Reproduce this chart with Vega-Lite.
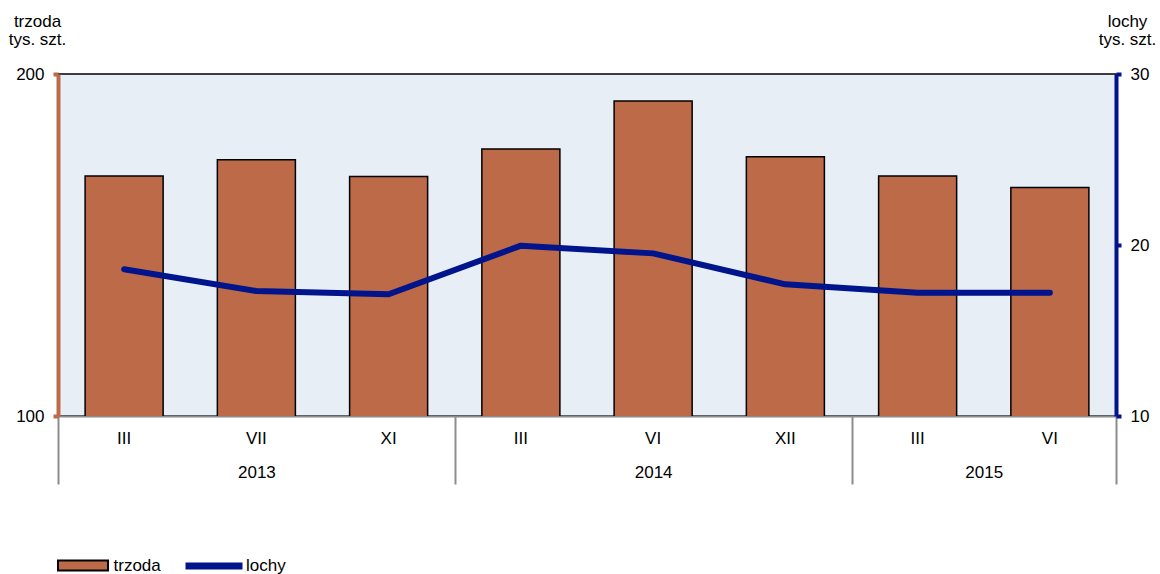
{
  "$schema": "https://vega.github.io/schema/vega-lite/v6.json",
  "description": "Trzoda chlewna i lochy, tys. szt.",
  "width": 1058,
  "height": 342,
  "autosize": {"type": "none"},
  "padding": {"left": 58, "top": 74, "right": 44, "bottom": 158},
  "config": {
    "font": "Liberation Sans",
    "view": {"fill": "#E7EEF6", "stroke": "#000000", "strokeWidth": 1.5},
    "axis": {
      "grid": false,
      "labelFont": "Liberation Sans",
      "labelFontSize": 17,
      "labelColor": "#000000",
      "titleFont": "Liberation Sans",
      "titleFontSize": 17,
      "titleFontWeight": "normal",
      "titleColor": "#000000",
      "titleLineHeight": 18
    },
    "legend": {"labelFont": "Liberation Sans", "labelFontSize": 17, "labelColor": "#000000"}
  },
  "data": {
    "values": [
      {"okres": "III 2013", "trzoda": 170.2, "lochy": 18.58},
      {"okres": "VII 2013", "trzoda": 174.9, "lochy": 17.31},
      {"okres": "XI 2013", "trzoda": 170.0, "lochy": 17.12},
      {"okres": "III 2014", "trzoda": 178.1, "lochy": 19.96},
      {"okres": "VI 2014", "trzoda": 192.1, "lochy": 19.51},
      {"okres": "XII 2014", "trzoda": 175.8, "lochy": 17.7},
      {"okres": "III 2015", "trzoda": 170.2, "lochy": 17.21},
      {"okres": "VI 2015", "trzoda": 166.8, "lochy": 17.21}
    ]
  },
  "layer": [
    {
      "layer": [
        {
          "mark": {"type": "bar", "stroke": "#000000", "strokeWidth": 1.5, "clip": true},
          "encoding": {
            "x": {
              "field": "okres",
              "type": "nominal",
              "sort": null,
              "scale": {"paddingInner": 0.41, "paddingOuter": 0.205},
              "axis": {
                "orient": "bottom",
                "title": null,
                "labelExpr": "split(datum.label, ' ')[0]",
                "labelAngle": 0,
                "ticks": false,
                "labelPadding": 14,
                "domainColor": "#8C8C8C",
                "domainWidth": 2
              }
            },
            "y": {
              "field": "trzoda",
              "type": "quantitative",
              "scale": {"domain": [100, 200], "nice": false, "zero": false},
              "axis": {
                "orient": "left",
                "values": [100, 200],
                "title": ["trzoda", "tys. szt."],
                "titleAngle": 0,
                "titleAlign": "center",
                "titleBaseline": "top",
                "titleX": -21,
                "titleY": -61,
                "domainColor": "#BD6A49",
                "domainWidth": 4,
                "tickColor": "#BD6A49",
                "tickWidth": 4,
                "tickSize": 5,
                "labelPadding": 9
              }
            },
            "fill": {
              "datum": "trzoda",
              "type": "nominal",
              "scale": {"domain": ["trzoda"], "range": ["#BD6A49"]},
              "legend": {
                "orient": "none",
                "legendX": -4.5,
                "legendY": 462,
                "title": null,
                "padding": 0,
                "symbolSize": 3249,
                "labelOffset": 1,
                "symbolType": "M-0.877,-0.175H0.877V0.175H-0.877Z",
                "symbolFillColor": "#BD6A49",
                "symbolStrokeColor": "#000000",
                "symbolStrokeWidth": 2,
                "symbolOpacity": 1
              }
            }
          }
        },
        {
          "mark": {"type": "line", "strokeWidth": 6, "strokeCap": "round", "strokeJoin": "round"},
          "encoding": {
            "x": {"field": "okres", "type": "nominal", "sort": null},
            "y": {
              "field": "lochy",
              "type": "quantitative",
              "scale": {"domain": [10, 30], "nice": false, "zero": false},
              "axis": {
                "orient": "right",
                "values": [10, 20, 30],
                "title": ["lochy", "tys. szt."],
                "titleAngle": 0,
                "titleAlign": "center",
                "titleBaseline": "top",
                "titleX": 11,
                "titleY": -61,
                "domainColor": "#00148C",
                "domainWidth": 4,
                "tickColor": "#00148C",
                "tickWidth": 4,
                "tickSize": 5,
                "labelPadding": 9
              }
            },
            "stroke": {
              "datum": "lochy",
              "type": "nominal",
              "scale": {"domain": ["lochy"], "range": ["#00148C"]},
              "legend": {
                "orient": "none",
                "legendX": 124,
                "legendY": 460,
                "title": null,
                "padding": 0,
                "symbolSize": 3249,
                "labelOffset": 0,
                "symbolType": "M-1,0H1",
                "symbolFillColor": "transparent",
                "symbolStrokeColor": "#00148C",
                "symbolStrokeWidth": 7,
                "symbolOpacity": 1
              }
            }
          }
        }
      ],
      "resolve": {"scale": {"y": "independent"}}
    },
    {
      "transform": [{"window": [{"op": "row_number", "as": "nr"}]}],
      "mark": {"type": "point", "opacity": 0},
      "encoding": {
        "x": {
          "field": "nr",
          "type": "quantitative",
          "scale": {"domain": [0.5, 8.5], "nice": false, "zero": false},
          "axis": {
            "orient": "bottom",
            "title": null,
            "domain": false,
            "grid": false,
            "values": [0.5, 2, 3.5, 5, 6.5, 7.5, 8.5],
            "labelExpr": "datum.value == 2 ? '2013' : datum.value == 5 ? '2014' : datum.value == 7.5 ? '2015' : ''",
            "tickSize": 68,
            "tickColor": "#8C8C8C",
            "tickWidth": 2,
            "tickOpacity": {
              "condition": {"test": "datum.value == 0.5 || datum.value == 3.5 || datum.value == 6.5 || datum.value == 8.5", "value": 1},
              "value": 0
            },
            "labelPadding": -20,
            "labelFlush": false,
            "labelOverlap": false,
            "labelBound": false
          }
        }
      }
    }
  ],
  "resolve": {"scale": {"x": "independent", "y": "independent"}}
}
